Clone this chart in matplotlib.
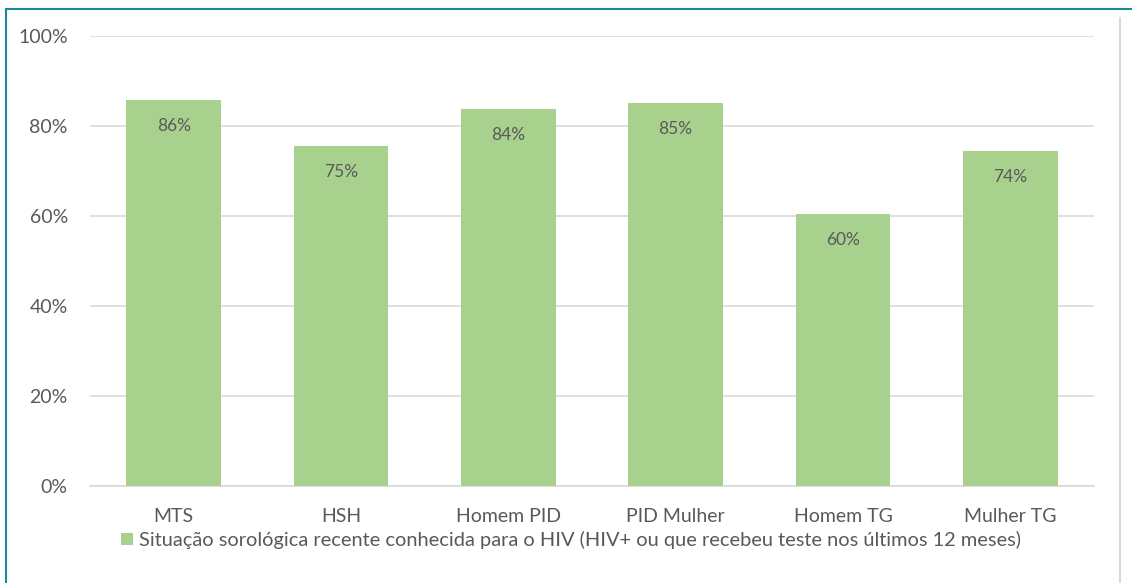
import matplotlib
matplotlib.use("Agg")
import matplotlib.pyplot as plt
from matplotlib.lines import Line2D
from matplotlib.patches import Patch

categories = ["MTS", "HSH", "Homem PID", "PID Mulher", "Homem TG", "Mulher TG"]
values = [86, 75, 84, 85, 60, 74]
plotted = [85.8, 75.5, 83.8, 85.1, 60.4, 74.4]
yticks = [0, 20, 40, 60, 80, 100]
series_name = "Situação sorológica recente conhecida para o HIV (HIV+ ou que recebeu teste nos últimos 12 meses)"

plt.rcParams['font.family'] = ['Lato', 'DejaVu Sans']
text_color = "#595959"
bar_color = "#a9d18e"

fig = plt.figure(figsize=(11.32, 5.83), dpi=100)
ax = fig.add_axes([90/1132, 1-486/583, (1094-90)/1132, (486-36)/583])

x = list(range(len(categories)))
bars = ax.bar(x, plotted, width=0.565, color=bar_color, zorder=3)
for xi, v, lab in zip(x, plotted, values):
    ax.text(xi, v - 5.8, f"{lab}%", ha="center", va="center", fontsize=12.5, color=text_color, zorder=4)

ax.set_xlim(-0.5, len(categories) - 0.5)
ax.set_ylim(0, 100)
ax.set_yticks(yticks)
ax.set_yticklabels([f"{t}%" for t in yticks])
ax.set_xticks(x)
ax.set_xticklabels(categories)
ax.tick_params(axis='both', length=0, labelsize=14, colors=text_color)
ax.tick_params(axis='y', pad=16)
ax.tick_params(axis='x', pad=16)
ax.grid(axis='y', color="#d9d9d9", linewidth=1.2, zorder=0)
for s in ["top", "right", "left"]:
    ax.spines[s].set_visible(False)
ax.spines["bottom"].set_color("#d9d9d9")
ax.spines["bottom"].set_linewidth(1.2)

handle = Patch(facecolor=bar_color, edgecolor='none')
fig.legend([handle], [series_name], loc='center', bbox_to_anchor=(571/1132, 1-540/583),
           frameon=False, fontsize=14.4, labelcolor=text_color, handlelength=0.6, handleheight=0.6,
           handletextpad=0.3)

# border lines
fig.add_artist(Line2D([6/1132, 6/1132], [0, 1-9/583], transform=fig.transFigure, color="#1a8a9a", linewidth=1.5))
fig.add_artist(Line2D([6/1132, 1], [1-9/583, 1-9/583], transform=fig.transFigure, color="#1a8a9a", linewidth=1.5))
fig.add_artist(Line2D([1120/1132, 1120/1132], [0, 1-18/583], transform=fig.transFigure, color="#d9d9d9", linewidth=1.5))

fig.savefig("out.png", dpi=100)
